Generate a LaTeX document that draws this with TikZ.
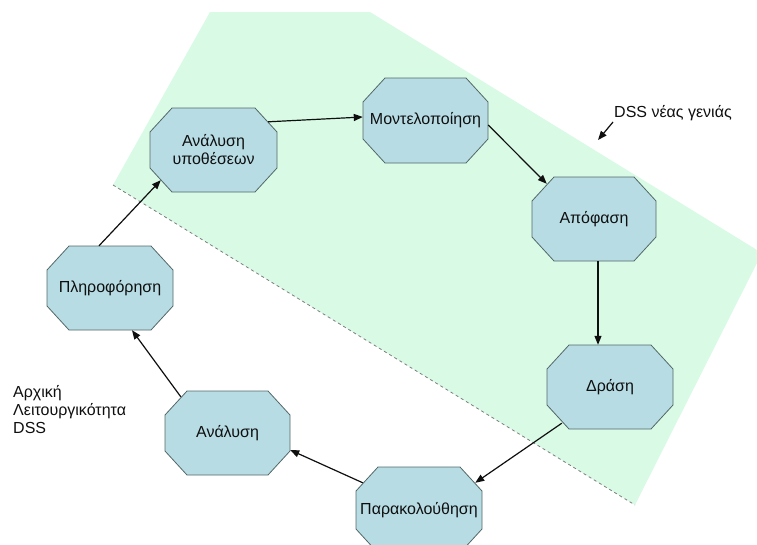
\documentclass[tikz,border=0pt]{standalone}
\usepackage{fontspec}
\setmainfont{Liberation Sans}
\usetikzlibrary{calc,arrows.meta}

\definecolor{zonegreen}{RGB}{217,250,229}
\definecolor{boxblue}{RGB}{183,220,228}
\definecolor{boxedge}{RGB}{84,104,104}
\definecolor{dashgray}{RGB}{125,125,125}
\definecolor{ink}{RGB}{15,15,15}

\tikzset{
  txt/.style={font=\fontsize{16}{18}\selectfont, text=ink},
  octbox/.style={fill=boxblue, draw=boxedge, line width=0.8pt, line join=miter},
  octlabel/.style={txt, shape=rectangle, align=center, inner sep=0pt},
  flow/.style={draw=ink, line width=1.2pt, -{Triangle[length=9pt,width=7pt]}},
}

% octagon with cut corners: name, centre x, centre y, half width, half height, text
\newcommand\octnode[6]{%
  \filldraw[octbox] (#2-#4+22,#3-#5) -- (#2+#4-22,#3-#5) -- (#2+#4,#3-#5+24)
    -- (#2+#4,#3+#5-24) -- (#2+#4-22,#3+#5) -- (#2-#4+22,#3+#5)
    -- (#2-#4,#3+#5-24) -- (#2-#4,#3-#5+24) -- cycle;
  \node[octlabel, minimum width=2*#4, minimum height=2*#5] (#1) at (#2,#3) {#6};
}

\begin{document}
\begin{tikzpicture}[x=1pt,y=-1pt]
\useasboundingbox (0,0) rectangle (757,544);

% zone of the new-generation DSS
\fill[zonegreen] (210,12) -- (370,12) -- (757,250) -- (757,263) -- (635,505) -- (113,185) -- cycle;
\draw[dashgray, line width=0.8pt, dash pattern=on 3pt off 3pt] (113,185) -- (635,505);

% the cycle of stages
\octnode{hyp}{213.5}{150}{63.5}{42}{Ανάλυση\\υποθέσεων}
\octnode{mod}{425.5}{120.5}{62.5}{42.5}{Μοντελοποίηση}
\octnode{dec}{594}{219}{62}{42}{Απόφαση}
\octnode{act}{610}{387}{63}{42}{Δράση}
\octnode{mon}{419}{510}{63}{43}{Παρακολούθηση}
\octnode{ana}{227.5}{433}{62.5}{42}{Ανάλυση}
\octnode{inf}{110}{288}{63}{42}{Πληροφόρηση}

\draw[flow] ($(inf.north)+(-11,0)$) -- ($(hyp.south west)+(11,-12)$);
\draw[flow] ($(hyp.north east)+(-9,14)$) -- ($(mod.west)+(0,-3.5)$);
\draw[flow] ($(mod.east)+(0,4.5)$) -- ($(dec.north west)+(15,7)$);
\draw[flow] ($(dec.south)+(4,0)$) -- ($(act.north)+(-12,0)$);
\draw[flow] ($(act.south west)+(15,-6)$) -- ($(mon.north east)+(-7,16)$);
\draw[flow] ($(mon.north west)+(7,16)$) -- ($(ana.east)+(0,17)$);
\draw[flow] ($(ana.north west)+(16,6)$) -- ($(inf.south)+(22,0)$);

% labels
\node[txt, anchor=base west, inner sep=0pt] (gen) at (614,117) {DSS νέας γενιάς};
\coordinate (gentip) at (598,140);
\draw[flow] ($(gen.base west)+(-1,5)$) -- (gentip);

% the base anchor of this three-line node sits on its last line
\node[txt, anchor=base west, align=left, inner sep=0pt] (orig) at (13,433)
  {Αρχική\\Λειτουργικότητα\\DSS};
\end{tikzpicture}
\end{document}
